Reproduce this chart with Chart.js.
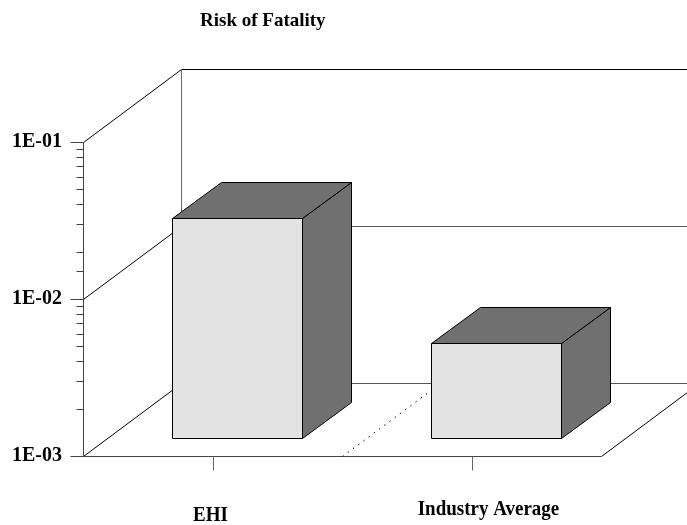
<!DOCTYPE html>
<html>
<head>
<meta charset="utf-8">
<script src="https://cdn.jsdelivr.net/npm/chart.js@4/dist/chart.umd.min.js"></script>
<style>
  html, body { margin: 0; padding: 0; background: #ffffff; }
  #wrap { width: 687px; height: 525px; }
</style>
</head>
<body>
<div id="wrap"><canvas id="c" width="687" height="525"></canvas></div>
<script>
// Risk of fatality per category (log scale)
const categories = ['EHI', 'Industry Average'];
const riskValues = [0.025, 0.004];
const yMin = 0.001;
const yMax = 0.1;
const chartTitle = 'Risk of Fatality';

// 3D box geometry: depth vector of the floor, and where the bars sit in depth
const DEPTH = { dx: 98, dy: -73 };
const BAR_FRONT = 0.25;
const BAR_BACK = 0.75;
const FONT = '"Liberation Serif", "Times New Roman", serif';
// small per-label nudges for the category captions
const labelNudge = [{ x: -2, y: 521 }, { x: 17, y: 515 }];

function isDecade(v) {
  const e = Math.log10(v);
  return Math.abs(e - Math.round(e)) < 1e-9;
}
function decadeLabel(v) {
  const e = Math.round(Math.log10(v));
  const sign = e < 0 ? '-' : '+';
  return '1E' + sign + String(Math.abs(e)).padStart(2, '0');
}

const scene3d = {
  id: 'scene3d',
  afterDatasetsDraw(chart) {
    const { ctx, chartArea: a, scales } = chart;
    const xs = scales.x, ys = scales.y;
    const dx = DEPTH.dx, dy = DEPTH.dy;

    const line = (x1, y1, x2, y2, color) => {
      ctx.beginPath();
      ctx.strokeStyle = color;
      ctx.moveTo(x1, y1);
      ctx.lineTo(x2, y2);
      ctx.stroke();
    };
    const poly = (pts, fill) => {
      ctx.beginPath();
      ctx.moveTo(pts[0][0], pts[0][1]);
      for (let i = 1; i < pts.length; i++) ctx.lineTo(pts[i][0], pts[i][1]);
      ctx.closePath();
      ctx.fillStyle = fill;
      ctx.fill();
      ctx.strokeStyle = '#000000';
      ctx.stroke();
    };

    ctx.save();
    ctx.lineWidth = 1;
    ctx.translate(0.5, 0.5);

    // back wall and side wall gridlines at each decade
    const decades = ys.ticks.map(t => t.value).filter(isDecade);
    decades.forEach(v => {
      const py = Math.round(ys.getPixelForValue(v));
      line(a.left, py, a.left + dx, py + dy, '#000000');
      line(a.left + dx, py + dy, a.right + dx, py + dy, v === yMax ? '#000000' : '#555555');
    });
    // back wall left edge
    line(a.left + dx, Math.round(a.top) + dy, a.left + dx, Math.round(a.bottom) + dy, '#6a6a6a');

    // floor
    const fb = Math.round(a.bottom);
    line(a.left, fb, a.right, fb, '#444444');
    line(a.right, fb, a.right + dx, fb + dy, '#000000');

    // dotted divider between categories on the floor
    const mid = Math.round((xs.getPixelForValue(0) + xs.getPixelForValue(1)) / 2);
    ctx.setLineDash([1.5, 5]);
    line(mid, fb, mid + dx, fb + dy, '#000000');
    ctx.setLineDash([]);

    // value axis with major and minor ticks
    line(a.left, Math.round(a.top), a.left, fb, '#444444');
    ys.ticks.forEach(t => {
      const py = Math.round(ys.getPixelForValue(t.value));
      const len = isDecade(t.value) ? 13 : 7;
      line(a.left - len, py, a.left, py, '#444444');
    });

    // category ticks
    categories.forEach((c, i) => {
      const px = Math.round(xs.getPixelForValue(i));
      line(px, fb, px, fb + 14, '#666666');
    });

    // bars as 3D boxes
    const meta = chart.getDatasetMeta(0);
    meta.data.forEach(bar => {
      const p = bar.getProps(['x', 'y', 'base', 'width'], true);
      const l = Math.round(p.x - p.width / 2 + dx * BAR_FRONT);
      const r = Math.round(p.x + p.width / 2 + dx * BAR_FRONT);
      const t = Math.round(p.y + dy * BAR_FRONT);
      const b = Math.round(p.base + dy * BAR_FRONT);
      const ox = Math.round(dx * (BAR_BACK - BAR_FRONT));
      const oy = Math.round(dy * (BAR_BACK - BAR_FRONT));
      poly([[r, t], [r + ox, t + oy], [r + ox, b + oy], [r, b]], '#707070');
      poly([[l, t], [l + ox, t + oy], [r + ox, t + oy], [r, t]], '#707070');
      poly([[l, t], [r, t], [r, b], [l, b]], '#e3e3e3');
    });
    ctx.restore();

    // captions
    ctx.save();
    ctx.fillStyle = '#000000';
    ctx.textBaseline = 'alphabetic';
    ctx.font = 'bold 19px ' + FONT;
    ctx.textAlign = 'left';
    ctx.fillText(chartTitle, 200, 26);
    ctx.textAlign = 'center';
    categories.forEach((c, i) => {
      const px = xs.getPixelForValue(i) + labelNudge[i].x;
      ctx.save();
      ctx.translate(px, labelNudge[i].y);
      ctx.scale(1, 1.15);
      ctx.fillText(c, 0, 0);
      ctx.restore();
    });
    ctx.restore();
  }
};

new Chart(document.getElementById('c'), {
  type: 'bar',
  data: {
    labels: categories,
    datasets: [{
      label: chartTitle,
      data: riskValues,
      backgroundColor: 'rgba(0,0,0,0)',
      borderWidth: 0,
      categoryPercentage: 1.0,
      barPercentage: 0.5
    }]
  },
  options: {
    responsive: false,
    devicePixelRatio: 1,
    animation: false,
    layout: { padding: { top: 142, right: 86, left: 0, bottom: 0 } },
    plugins: {
      legend: { display: false },
      title: { display: false },
      tooltip: { enabled: false }
    },
    scales: {
      x: {
        type: 'category',
        offset: true,
        grid: { display: false },
        border: { display: false },
        ticks: { display: false },
        afterFit(scale) { scale.height = 69; }
      },
      y: {
        type: 'logarithmic',
        min: yMin,
        max: yMax,
        grid: { display: true, drawOnChartArea: false, drawTicks: true, tickLength: 13, color: 'rgba(0,0,0,0)' },
        border: { display: false },
        ticks: {
          autoSkip: false,
          padding: 8,
          color: '#000000',
          font: { family: FONT, size: 20, weight: 'bold' },
          callback: (v) => isDecade(v) ? decadeLabel(v) : ''
        },
        afterFit(scale) { scale.width = 83; }
      }
    }
  },
  plugins: [scene3d]
});
</script>
</body>
</html>
